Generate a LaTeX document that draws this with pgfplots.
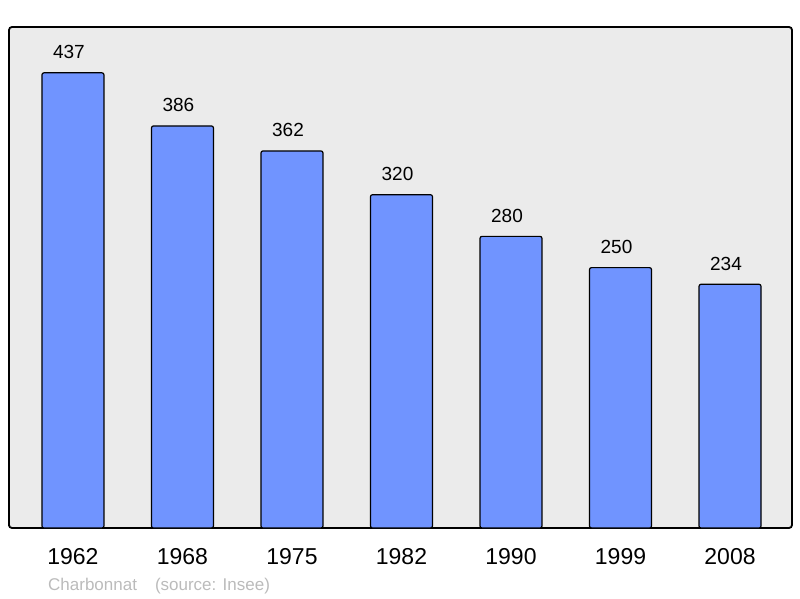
\documentclass[border=0pt]{standalone}
\usepackage{pgfplots}
\pgfplotsset{compat=1.18}
\usepackage{fontspec}
\setmainfont{Liberation Sans}
\definecolor{barblue}{HTML}{7094FF}
\definecolor{bggrey}{HTML}{EBEBEB}
\definecolor{footgrey}{HTML}{BBBBBB}
\begin{document}
\begin{tikzpicture}[x=1pt,y=1pt]
\path[use as bounding box] (0,0) rectangle (800,598);
\begin{axis}[
  at={(9pt,70pt)}, anchor=south west,
  scale only axis, width=783pt, height=501pt,
  xmin=-0.584, xmax=6.566, ymin=0, ymax=481,
  ybar, bar width=0.566,
  axis background/.style={fill=bggrey},
  axis line style={line width=1.8pt, rounded corners=3pt},
  xtick=data, xticklabels={1962,1968,1975,1982,1990,1999,2008},
  ytick=\empty, major tick length=0pt,
  xticklabel style={font=\fontsize{23}{26}\selectfont, anchor=base, yshift=-36pt},
  typeset ticklabels with strut,
  /pgf/number format/assume math mode=true,
  nodes near coords,
  every node near coord/.append style={font=\fontsize{19}{22}\selectfont, anchor=base, yshift=14pt, xshift=-4pt, inner sep=0pt},
  clip=false,
]
\addplot[fill=barblue, draw=black, line width=1.2pt, rounded corners=2pt] coordinates {
(0,437) (1,386) (2,362) (3,320) (4,280) (5,250) (6,234)};
\end{axis}
\node[anchor=base west, inner sep=0pt, text=footgrey, font=\fontsize{17}{19}\selectfont] at (48,8) {Charbonnat\hspace{18pt}(source: Insee)};
\end{tikzpicture}
\end{document}
